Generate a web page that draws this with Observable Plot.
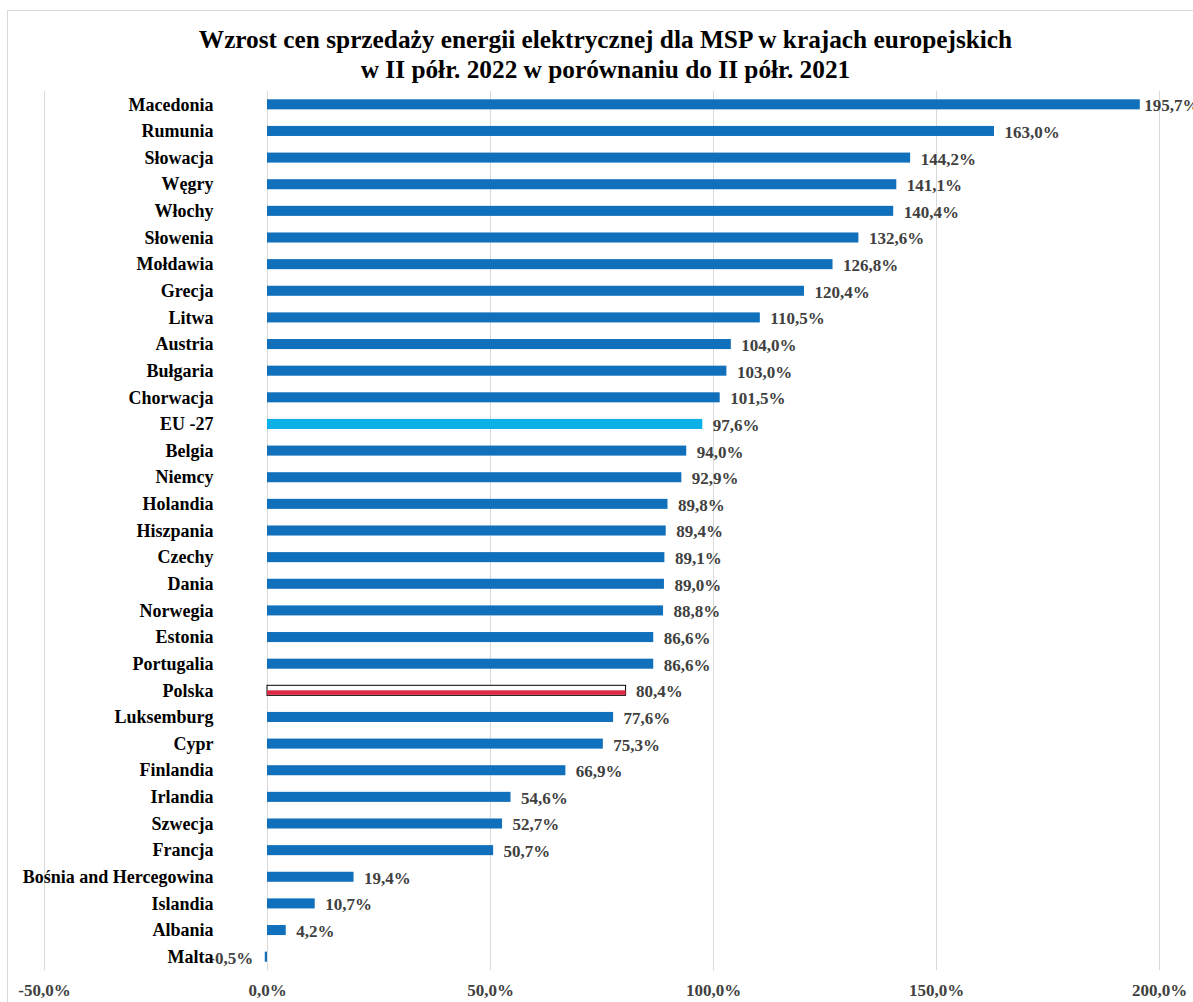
<!DOCTYPE html>
<html>
<head>
<meta charset="utf-8">
<script src="https://cdn.jsdelivr.net/npm/d3@7"></script>
<script src="https://cdn.jsdelivr.net/npm/@observablehq/plot@0.6"></script>
<style>
  html, body { margin: 0; padding: 0; background: #fff; }
  #frame { position: absolute; left: 7px; top: 10px; width: 1200px; height: 1000px; border: 1px solid #d9d9d9; box-sizing: border-box; }
  #title { position: absolute; left: 0; top: 24px; width: 1193px; padding-left: 18px; box-sizing: border-box; text-align: center; font-family: "Liberation Serif", "Times New Roman", serif; font-weight: bold; font-size: 25.3px; line-height: 30px; color: #000; }
  #chart { position: absolute; left: 0; top: 88px; }
</style>
</head>
<body>
<div id="frame"></div>
<div id="title">Wzrost cen sprzedaży energii elektrycznej dla MSP w krajach europejskich<br>w II półr. 2022 w porównaniu do II półr. 2021</div>
<div id="chart"></div>
<script>
const countries = ["Macedonia","Rumunia","Słowacja","Węgry","Włochy","Słowenia","Mołdawia","Grecja","Litwa","Austria","Bułgaria","Chorwacja","EU -27","Belgia","Niemcy","Holandia","Hiszpania","Czechy","Dania","Norwegia","Estonia","Portugalia","Polska","Luksemburg","Cypr","Finlandia","Irlandia","Szwecja","Francja","Bośnia and Hercegowina","Islandia","Albania","Malta"];
const values = [195.7,163.0,144.2,141.1,140.4,132.6,126.8,120.4,110.5,104.0,103.0,101.5,97.6,94.0,92.9,89.8,89.4,89.1,89.0,88.8,86.6,86.6,80.4,77.6,75.3,66.9,54.6,52.7,50.7,19.4,10.7,4.2,-0.5];
const xTicks = [-50, 0, 50, 100, 150, 200];

const data = countries.map((c, i) => ({country: c, value: values[i]}));
const fmt = v => v.toFixed(1).replace(".", ",") + "%";
const serif = "Liberation Serif, Times New Roman, serif";

const blue = "#1170bb";
const euBlue = "#0ab0e6";
const pl = data.filter(d => d.country === "Polska");
const others = data.filter(d => d.country !== "Polska");
const maxV = d3.max(values);
const top1 = data.filter(d => d.value === maxV);
const pos = data.filter(d => d.value >= 0 && d.value !== maxV);
const neg = data.filter(d => d.value < 0);

const chart = Plot.plot({
  width: 1193,
  height: 914,
  marginLeft: 44,
  marginRight: 34,
  marginTop: 3,
  marginBottom: 32,
  style: {fontFamily: serif, background: "transparent"},
  x: {domain: [-50, 200]},
  y: {domain: countries, padding: 0, round: false},
  marks: [
    Plot.gridX(xTicks, {stroke: "#d9d9d9", strokeOpacity: 1, strokeWidth: 1}),
    Plot.barX(others, {x: "value", y: "country", fill: d => d.country === "EU -27" ? euBlue : blue, insetTop: 8.3, insetBottom: 8.3}),
    Plot.barX(pl, {x: "value", y: "country", fill: "#ffffff", stroke: "#000", strokeWidth: 1, insetTop: 8.3, insetBottom: 8.3}),
    Plot.barX(pl, {x: "value", y: "country", fill: "#dc2a46", insetTop: 13.3, insetBottom: 8.8}),
    Plot.text(pos, {x: "value", y: "country", text: d => fmt(d.value), textAnchor: "start",
      dx: 10, dy: 1, fill: "#404040", fontWeight: "bold", fontSize: 17}),
    Plot.text(top1, {x: "value", y: "country", text: d => fmt(d.value), textAnchor: "start",
      dx: 4, dy: 1, fill: "#404040", fontWeight: "bold", fontSize: 17}),
    Plot.text(neg, {x: "value", y: "country", text: d => fmt(d.value), textAnchor: "end",
      dx: -12, dy: 1, fill: "#404040", fontWeight: "bold", fontSize: 17}),
    Plot.axisY({tickSize: 0, tickPadding: 0, dx: 169, fontSize: 18, fontWeight: "bold", fill: "#000", label: null}),
    Plot.axisX(xTicks, {tickSize: 0, tickPadding: 13, fontSize: 17, fontWeight: "bold", fill: "#404040", tickFormat: fmt, label: null})
  ]
});
document.getElementById("chart").appendChild(chart);
</script>
</body>
</html>
